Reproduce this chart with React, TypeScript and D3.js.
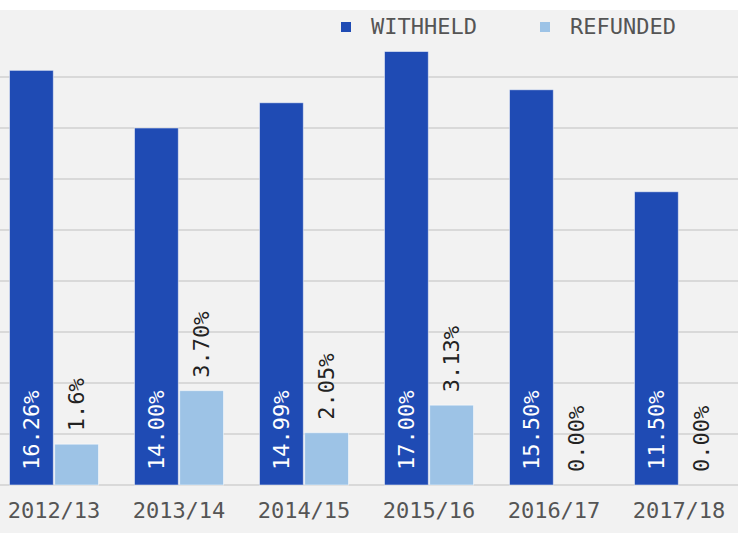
import React from "react";
import * as d3 from "d3";

const categories = ["2012/13", "2013/14", "2014/15", "2015/16", "2016/17", "2017/18"];
const seriesNames = ["WITHHELD", "REFUNDED"];
const withheld = [16.26, 14.0, 14.99, 17.0, 15.5, 11.5];
const refunded = [1.6, 3.7, 2.05, 3.13, 0, 0];
const withheldLabels = ["16.26%", "14.00%", "14.99%", "17.00%", "15.50%", "11.50%"];
const refundedLabels = ["1.6%", "3.70%", "2.05%", "3.13%", "0.00%", "0.00%"];
const gridTicks = [0, 2, 4, 6, 8, 10, 12, 14, 16];

const W = 738;
const H = 533;
const colors = ["#1f4bb4", "#9dc3e6"];
const mono = "'DejaVu Sans Mono', monospace";

export default function App() {
  const x0 = d3
    .scaleBand<string>()
    .domain(categories)
    .range([-8.5, 741.5])
    .paddingInner(0.288)
    .paddingOuter(0.144);
  const x1 = d3
    .scaleBand<string>()
    .domain(seriesNames)
    .range([0, x0.bandwidth()])
    .paddingInner(0.03);
  const y = d3.scaleLinear().domain([0, 18]).range([485, 485 - 18 * 25.5]);

  const series = [
    { name: seriesNames[0], values: withheld, labels: withheldLabels },
    { name: seriesNames[1], values: refunded, labels: refundedLabels },
  ];

  return (
    <svg
      width={W}
      height={H}
      style={{ position: "absolute", left: 0, top: 0, display: "block" }}
    >
      <rect x={0} y={0} width={W} height={H} fill="#f2f2f2" />
      <rect x={0} y={0} width={W} height={10} fill="#ffffff" />
      {gridTicks.map((t) => (
        <line
          key={t}
          x1={0}
          x2={W}
          y1={y(t)}
          y2={y(t)}
          stroke="#d9d9d9"
          strokeWidth={2}
        />
      ))}
      {categories.map((c, i) => (
        <g key={c} transform={`translate(${x0(c)},0)`}>
          {series.map((s, si) => {
            const v = s.values[i];
            const bx = x1(s.name) as number;
            const bw = x1.bandwidth();
            const top = y(v);
            const cx = bx + bw / 2;
            return (
              <g key={s.name}>
                {v > 0 && (
                  <rect
                    x={bx}
                    y={top}
                    width={bw}
                    height={y(0) - top}
                    fill={colors[si]}
                    stroke="#ffffff"
                    strokeOpacity={0.5}
                    strokeWidth={1}
                  />
                )}
                {si === 0 ? (
                  <text
                    transform={`translate(${cx},${y(0) - 15}) rotate(-90)`}
                    textAnchor="start"
                    dominantBaseline="central"
                    fontFamily={mono}
                    fontSize={22}
                    fill="#ffffff"
                  >
                    {s.labels[i]}
                  </text>
                ) : (
                  <text
                    transform={`translate(${cx},${top - 13}) rotate(-90)`}
                    textAnchor="start"
                    dominantBaseline="central"
                    fontFamily={mono}
                    fontSize={22}
                    fill="#222222"
                  >
                    {s.labels[i]}
                  </text>
                )}
              </g>
            );
          })}
          <text
            x={x0.bandwidth() / 2}
            y={518}
            textAnchor="middle"
            fontFamily={mono}
            fontSize={22}
            fill="#555555"
          >
            {c}
          </text>
        </g>
      ))}
      {seriesNames.map((n, i) => {
        const lx = [341, 540][i];
        return (
          <g key={n}>
            <rect x={lx} y={22} width={10} height={10} fill={colors[i]} />
            <text
              x={lx + 30}
              y={26}
              dominantBaseline="central"
              fontFamily={mono}
              fontSize={22}
              fill="#555555"
            >
              {n}
            </text>
          </g>
        );
      })}
    </svg>
  );
}
